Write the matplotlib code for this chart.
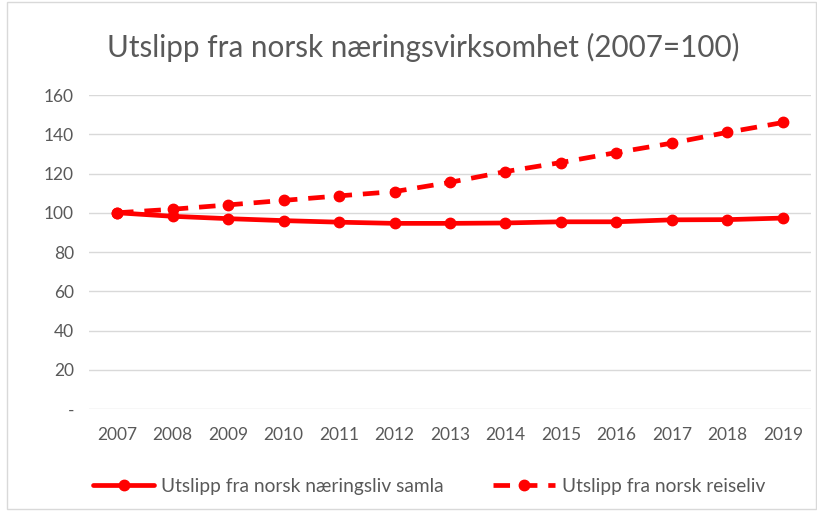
import matplotlib
matplotlib.use("Agg")
import matplotlib.pyplot as plt
from matplotlib.patches import Rectangle

years = ["2007", "2008", "2009", "2010", "2011", "2012", "2013",
         "2014", "2015", "2016", "2017", "2018", "2019"]
samla = [100, 98.2, 97, 96, 95.2, 94.6, 94.6, 94.8, 95.4, 95.4, 96.4, 96.5, 97.3]
reiseliv = [100, 101.8, 104, 106.3, 108.6, 110.8, 115.5, 121, 125.6, 130.7, 135.5, 141, 146]
yticks = [0, 20, 40, 60, 80, 100, 120, 140, 160]
ytick_labels = ["-", "20", "40", "60", "80", "100", "120", "140", "160"]

plt.rcParams['font.family'] = ['Lato', 'DejaVu Sans']
txt = "#595959"

fig = plt.figure(figsize=(8.17, 5.15), dpi=100)
ax = fig.add_axes([0.1093, 0.2058, 0.8830, 0.6097])

x = list(range(len(years)))
ax.plot(x, samla, color="#FF0000", lw=3.4, marker="o", ms=7.5, solid_capstyle="round",
        label="Utslipp fra norsk næringsliv samla", zorder=3)
ax.plot(x, reiseliv, color="#FF0000", lw=3.4, marker="o", ms=7.5, linestyle=(0, (3.5, 2.3)),
        label="Utslipp fra norsk reiseliv", zorder=3)

ax.set_xlim(-0.5, len(years) - 0.5)
ax.set_ylim(0, 160)
ax.set_yticks(yticks)
ax.set_yticklabels(ytick_labels)
ax.set_xticks(x)
ax.set_xticklabels(years)
ax.tick_params(axis="both", length=0, labelsize=12.5, colors=txt)
ax.tick_params(axis="y", pad=11)
ax.tick_params(axis="x", pad=13)
ax.grid(axis="y", color="#D9D9D9", lw=1)
ax.set_axisbelow(True)
for s in ax.spines.values():
    s.set_visible(False)

fig.text(0.518, 0.908, "Utslipp fra norsk næringsvirksomhet (2007=100)", ha="center", va="center",
         fontsize=21.3, color=txt)

leg = fig.legend(loc="center", bbox_to_anchor=(0.525, 0.055), ncol=2, frameon=False,
                 fontsize=13.8, handlelength=3.2, columnspacing=2.6, handletextpad=0.35)
for t in leg.get_texts():
    t.set_color(txt)

fig.patches.append(Rectangle((0.009, 0.012), 0.99, 0.985, transform=fig.transFigure,
                             fill=False, edgecolor="#D9D9D9", lw=1))

fig.savefig("out.png", dpi=100)
